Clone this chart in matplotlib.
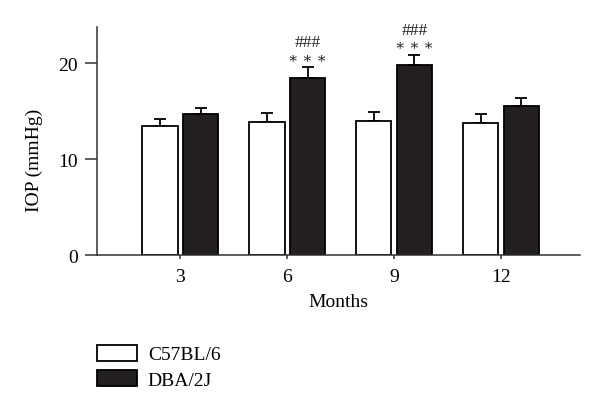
import matplotlib.pyplot as plt
import numpy as np

# data
months = ['3', '6', '9', '12']
c57_mean = [13.4, 13.9, 14.0, 13.8]
c57_err = [0.8, 0.9, 0.9, 0.95]
dba_mean = [14.75, 18.4, 19.8, 15.5]
dba_err = [0.6, 1.15, 1.05, 0.9]
dba_stars = ['', '∗ ∗ ∗', '∗ ∗ ∗', '']
dba_hash = ['', '###', '###', '']

plt.rcParams['font.family'] = ['Liberation Serif', 'DejaVu Serif']

fig = plt.figure(figsize=(6, 4.14), dpi=100)
ax = fig.add_axes([0.1617, 0.3816, 0.805, 0.5504])

x = np.arange(len(months))
w = 0.33
off = 0.19
bar_col = '#231f20'

ax.bar(x - off, c57_mean, w, color='white', edgecolor='black', linewidth=1.3,
       label='C57BL/6', zorder=2)
ax.bar(x + off, dba_mean, w, color=bar_col, edgecolor='black', linewidth=1.3,
       label='DBA/2J', zorder=2)
ax.errorbar(x - off, c57_mean, yerr=[np.zeros(4), c57_err], fmt='none',
            ecolor='black', elinewidth=1.3, capsize=4.3, capthick=1.3, zorder=1)
ax.errorbar(x + off, dba_mean, yerr=[np.zeros(4), dba_err], fmt='none',
            ecolor='black', elinewidth=1.3, capsize=4.3, capthick=1.3, zorder=1)

# significance marks (*** vs C57BL/6, ### vs 3 months)
for i in range(len(months)):
    top = dba_mean[i] + dba_err[i]
    if dba_stars[i]:
        ax.annotate(dba_stars[i], (x[i] + off, top), xytext=(0, 6.5),
                    textcoords='offset points', ha='center', va='center',
                    fontsize=11, color='#222222')
    if dba_hash[i]:
        ax.annotate(dba_hash[i], (x[i] + off, top), xytext=(0, 18),
                    textcoords='offset points', ha='center', va='center',
                    fontsize=12.5, color='#222222')

ax.set_xlim(-0.78, 3.74)
ax.set_ylim(0, 23.75)
ax.set_yticks([0, 10, 20])
ax.set_xticks(x)
ax.set_xticklabels(months)
ax.tick_params(axis='y', length=8.6, width=1.1, labelsize=14, pad=5, color='#333333')
ax.tick_params(axis='x', length=3, width=1.1, labelsize=14, pad=6, color='#333333')
for s in ['top', 'right']:
    ax.spines[s].set_visible(False)
for s in ['left', 'bottom']:
    ax.spines[s].set_linewidth(1.1)
    ax.spines[s].set_color('#333333')

ax.set_ylabel('IOP (mmHg)', fontsize=14)
ax.yaxis.set_label_coords(-0.112, 0.42)
ax.set_xlabel('Months', fontsize=14, labelpad=6)

fig.legend(loc='upper left', bbox_to_anchor=(0.162, 0.165), frameon=False,
           fontsize=14, handlelength=2.05, handleheight=0.9, labelspacing=0.35,
           handletextpad=0.55, borderaxespad=0, borderpad=0)

fig.savefig('out.png', dpi=100)
